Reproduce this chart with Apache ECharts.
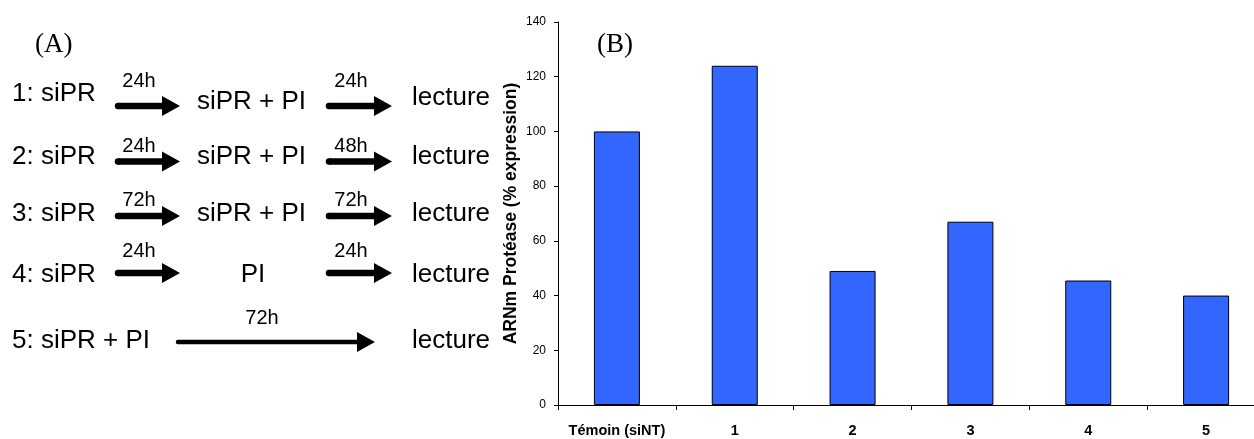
<!DOCTYPE html>
<html>
<head>
<meta charset="utf-8">
<script src="https://cdn.jsdelivr.net/npm/echarts@6/dist/echarts.min.js"></script>
<style>
html,body{margin:0;padding:0;background:#fff;}
#chart{width:1254px;height:439px;}
</style>
</head>
<body>
<div id="chart"></div>
<script>
// ---- Data (panel B) ----
const categories = ['Témoin (siNT)', '1', '2', '3', '4', '5'];
const values = [100, 124, 49, 67, 45.5, 40];
const yMin = 0, yMax = 140, yInterval = 20;
const yTitle = 'ARNm Protéase (% expression)';

// ---- Protocol text (panel A) ----
const stepsRow1 = ['1: siPR', 'siPR + PI', 'lecture'];
const stepsRow2 = ['2: siPR', 'siPR + PI', 'lecture'];
const stepsRow3 = ['3: siPR', 'siPR + PI', 'lecture'];
const stepsRow4 = ['4: siPR', 'PI', 'lecture'];
const stepsRow5 = ['5: siPR + PI', 'lecture'];
const durRow1 = ['24h', '24h'];
const durRow2 = ['24h', '48h'];
const durRow3 = ['72h', '72h'];
const durRow4 = ['24h', '24h'];
const durRow5 = ['72h'];

const SANS = '"Liberation Sans", Arial, sans-serif';
const SERIF = '"Liberation Serif", "Times New Roman", serif';

function txt(text, x, y, size, opts) {
  opts = opts || {};
  return {
    type: 'text', silent: true,
    style: {
      text: text, x: x, y: y,
      fontSize: size, fontFamily: opts.family || SANS,
      fontWeight: opts.weight || 'normal',
      fill: '#000',
      align: opts.align || 'left',
      verticalAlign: 'middle'
    }
  };
}
function arrow(x1, x2, y, shaft, headLen, headH) {
  const hx = x2 - headLen;
  return [{
    type: 'polygon', silent: true,
    shape: { points: [[x1, y - shaft / 2], [hx, y - shaft / 2], [hx, y - headH / 2], [x2, y], [hx, y + headH / 2], [hx, y + shaft / 2], [x1, y + shaft / 2]] },
    style: { fill: '#000' }
  }, {
    type: 'circle', silent: true,
    shape: { cx: x1, cy: y, r: shaft / 2 },
    style: { fill: '#000' }
  }];
}

const g = [];
const TS = 26, DS = 20;
// titles
g.push(txt('(A)', 35, 45, 27, { family: SERIF }));
g.push(txt('(B)', 597, 45, 27, { family: SERIF }));

function row(steps, durs, ys, ay, ly) {
  g.push(txt(steps[0], 12, ys[0], TS));
  if (steps[1] === 'PI') g.push(txt(steps[1], 253, ys[1], TS, { align: 'center' }));
  else g.push(txt(steps[1], 197, ys[1], TS));
  g.push(txt(steps[2], 412, ys[2], TS));
  g.push(...arrow(118, 180, ay, 6.5, 18, 20));
  g.push(...arrow(329, 392, ay, 6.5, 18, 20));
  g.push(txt(durs[0], 139, ly, DS, { align: 'center' }));
  g.push(txt(durs[1], 351, ly, DS, { align: 'center' }));
}
row(stepsRow1, durRow1, [94, 102, 98], 106, 81);
row(stepsRow2, durRow2, [157, 157, 157], 161.5, 146);
row(stepsRow3, durRow3, [214, 214, 214], 216, 200);
row(stepsRow4, durRow4, [275, 275, 275], 273, 251);
// row 5
g.push(txt(stepsRow5[0], 12, 341, TS));
g.push(txt(stepsRow5[1], 412, 341, TS));
g.push(...arrow(178, 375, 342, 4.5, 18, 20));
g.push(txt(durRow5[0], 262, 318, DS, { align: 'center' }));

const chart = echarts.init(document.getElementById('chart'), null, { renderer: 'canvas' });
chart.setOption({
  animation: false,
  backgroundColor: '#fff',
  grid: { left: 558, width: 707, top: 22, bottom: 34, containLabel: false, outerBoundsMode: 'none' },
  xAxis: {
    type: 'category',
    data: categories,
    axisLine: { lineStyle: { color: '#000', width: 1 } },
    axisTick: { show: true, length: 5, lineStyle: { color: '#000' } },
    axisLabel: { color: '#000', fontFamily: SANS, fontWeight: 'bold', fontSize: 14.5, margin: 18, interval: 0 },
    splitLine: { show: false }
  },
  yAxis: {
    type: 'value',
    min: yMin, max: yMax, interval: yInterval,
    name: yTitle,
    nameLocation: 'middle',
    nameGap: 38,
    nameMoveOverlap: false,
    nameTextStyle: { color: '#000', fontFamily: SANS, fontWeight: 'bold', fontSize: 17.5 },
    axisLine: { show: true, lineStyle: { color: '#000', width: 1 } },
    axisTick: { show: true, length: 4, lineStyle: { color: '#000' } },
    axisLabel: { color: '#000', fontFamily: SANS, fontSize: 12, margin: 12 },
    splitLine: { show: false }
  },
  series: [{
    type: 'bar',
    data: values,
    barWidth: 46,
    itemStyle: { color: '#3366FF', borderColor: '#000', borderWidth: 1 }
  }],
  graphic: g
});
</script>
</body>
</html>
